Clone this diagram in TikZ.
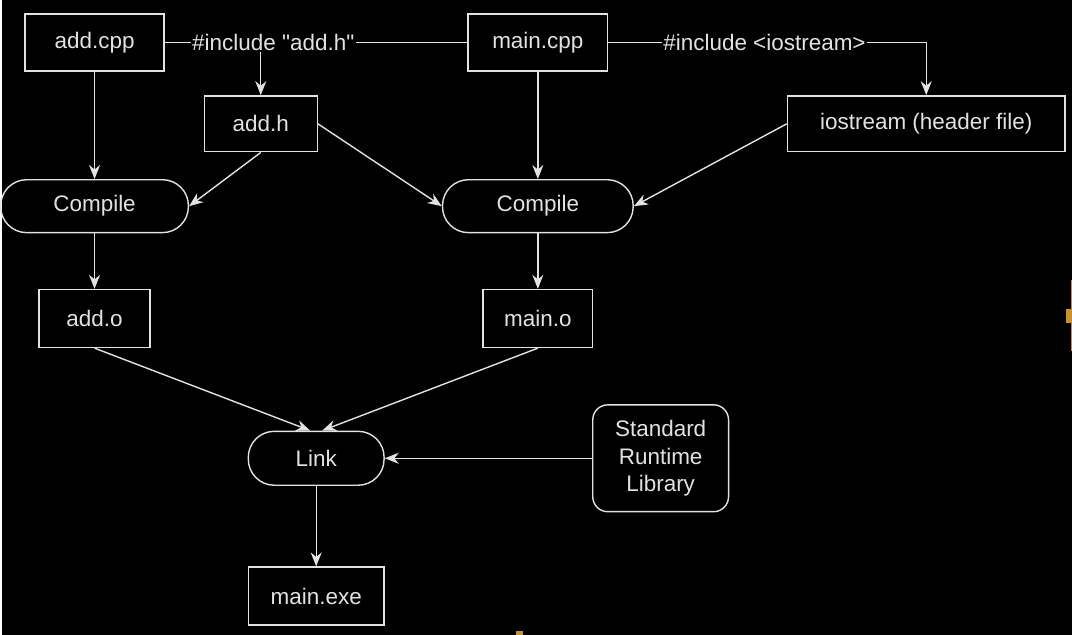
\documentclass[tikz,border=0pt]{standalone}
\usepackage{fontspec}
\setmainfont{Liberation Sans}
\usetikzlibrary{arrows.meta}
\definecolor{ink}{HTML}{E2E2E2}
\definecolor{artifact}{HTML}{C8922A}
\begin{document}
\begin{tikzpicture}[x=1pt,y=-1pt,
  every node/.style={text=ink,font=\fontsize{22.5}{26}\selectfont},
  box/.style={draw=ink,line width=1.4pt,rectangle,inner sep=0pt},
  pill/.style={draw=ink,line width=1.4pt,rectangle,rounded corners=26pt,inner sep=0pt},
  rbox/.style={draw=ink,line width=1.4pt,rectangle,rounded corners=15pt,inner sep=0pt,align=center},
  lbl/.style={inner sep=1pt},
  conn/.style={draw=ink,line width=1.4pt},
  arr/.style={conn,-{Stealth[length=14pt,width=11pt,inset=4.5pt]}}
]
\fill[black] (0,0) rectangle (1072,636);
% nodes
\node[box,minimum width=139pt,minimum height=57pt] (addcpp) at (93,42.5) {add.cpp};
\node[box,minimum width=140pt,minimum height=57pt] (maincpp) at (537,42.5) {main.cpp};
\node[lbl] (inc1) at (272,42.5) {\#include \textquotedbl add.h\textquotedbl};
\node[lbl] (inc2) at (764,42.5) {\#include <iostream>};
\node[box,minimum width=113pt,minimum height=56pt] (addh) at (259.5,124) {add.h};
\node[box,minimum width=278pt,minimum height=56pt] (ios) at (926,124) {iostream (header file)};
\node[pill,minimum width=188pt,minimum height=53pt] (comp1) at (93,206.5) {Compile};
\node[pill,minimum width=191pt,minimum height=53pt] (comp2) at (537,206.5) {Compile};
\node[box,minimum width=111pt,minimum height=58pt] (addo) at (93,319) {add.o};
\node[box,minimum width=110pt,minimum height=58pt] (maino) at (537,319) {main.o};
\node[pill,minimum width=136pt,minimum height=54pt] (link) at (315,459) {Link};
\node[rbox,minimum width=136pt,minimum height=107pt,font=\fontsize{22.5}{27.5}\selectfont] (std) at (660,459) {Standard\\Runtime\\Library};
\node[box,minimum width=136pt,minimum height=58pt] (exe) at (315,597) {main.exe};
% include lines
\draw[conn] (addcpp.east) -- (inc1.west);
\draw[conn] (inc1.east) -- (maincpp.west);
\draw[arr] (inc1.south -| addh.north) -- (addh.north);
\draw[conn] (maincpp.east) -- (inc2.west);
\draw[arr] (inc2.east) -| (ios.north);
% compile
\draw[arr] (addcpp.south) -- (comp1.north);
\draw[arr] (addh.south) -- (comp1.east);
\draw[arr] (addh.east) -- (comp2.west);
\draw[arr] (maincpp.south) -- (comp2.north);
\draw[arr] (ios.west) -- (comp2.east);
\draw[arr] (comp1.south) -- (addo.north);
\draw[arr] (comp2.south) -- (maino.north);
% link
\draw[arr] (addo.south) -- ([xshift=-6pt]link.north);
\draw[arr] (maino.south) -- ([xshift=6pt]link.north);
\draw[arr] (std.west) -- (link.east);
\draw[arr] (link.south) -- (exe.north);
% screen artifacts
\fill[artifact] (1066,309) rectangle (1072,324);
\fill[artifact] (1070.5,280) rectangle (1072,352);
\fill[artifact] (515,632) rectangle (522,636);
\end{tikzpicture}
\end{document}
